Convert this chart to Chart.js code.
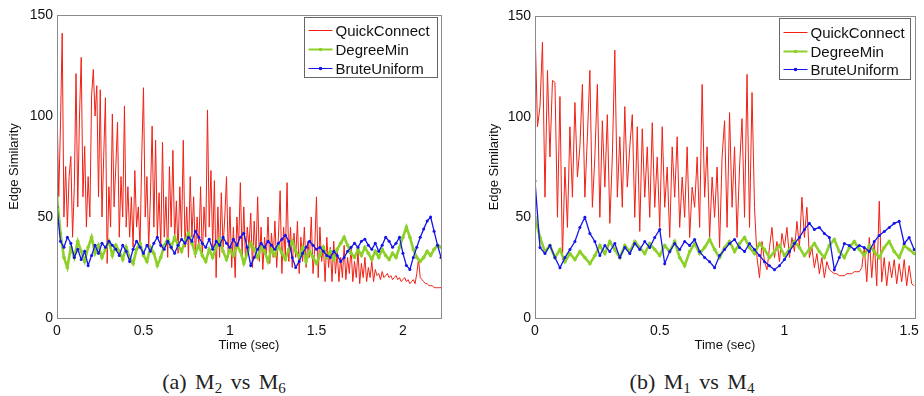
<!DOCTYPE html>
<html>
<head>
<meta charset="utf-8">
<script src="https://cdn.jsdelivr.net/npm/chart.js@4.4.1/dist/chart.umd.min.js"></script>
<style>
  body { margin: 0; background: #fff; width: 924px; height: 396px; position: relative; overflow: hidden; }
  canvas { position: absolute; top: 0; }
  #chartA { left: 0; }
  #chartB { left: 470px; }
  .caption { position: absolute; top: 369px; width: 240px; text-align: center; line-height: 26px;
             font-family: "Liberation Serif", "DejaVu Serif", serif; font-size: 22px;
             word-spacing: 3px; color: #222; }
  .caption sub { font-size: 15px; vertical-align: -4px; line-height: 0; }
</style>
</head>
<body>
<canvas id="chartA" width="462" height="360"></canvas>
<canvas id="chartB" width="454" height="360"></canvas>
<div class="caption" style="left:104px">(a) M<sub>2</sub> vs M<sub>6</sub></div>
<div class="caption" style="left:572px">(b) M<sub>1</sub> vs M<sub>4</sub></div>
<script>
// series names (legend)
const seriesNames = ['QuickConnect', 'DegreeMin', 'BruteUniform'];

// tick labels
const yTicks = [0, 50, 100, 150];
const xTicksA = [0, 0.5, 1, 1.5, 2];
const xTicksB = [0, 0.5, 1, 1.5];

// sampling interval (sec) of each series
const stepQuick = 0.01;
const stepOther = 0.02;

// (a) M2 vs M6
const quickA = [
  105,60,95,141,50,75,45,70,80,40,
  65,121,55,100,129,60,85,45,70,50,
  110,123,100,115,60,113,50,80,109,27,
  65,45,101,55,75,97,40,70,50,105,
  45,65,40,60,35,73,45,55,35,80,
  114,50,70,35,60,95,45,88,40,62,
  35,87,40,60,30,75,45,83,38,58,
  32,65,40,88,35,55,30,70,40,60,
  30,50,35,65,30,55,40,103,45,73,
  35,68,20,55,30,62,35,50,70,30,
  55,25,45,20,50,35,67,30,55,28,
  45,35,52,25,48,30,60,28,45,24,
  40,30,50,27,42,30,48,25,40,63,
  22,45,30,67,28,45,25,42,30,48,
  22,40,28,45,25,38,30,50,22,35,
  60,20,45,28,36,18,40,25,35,18,
  38,22,33,18,30,20,36,19,30,22,
  35,18,28,20,33,17,27,20,30,18,
  25,20,28,18,24,21,22,19,23,20,
  21,22,20,21,19,20,21,19,20,18,
  19,20,18,19,17,18,19,17,22,29,
  20,19,18,17,17,16,16,16,15,15,
  15,15,15
];
const degreeA = [
  60,42,30,25,35,30,38,33,28,35,
  40,32,36,30,34,38,31,36,33,29,
  35,30,27,34,37,31,28,35,32,26,
  30,36,39,35,40,36,33,38,42,37,
  32,36,31,28,34,30,35,39,33,29,
  34,31,36,33,27,32,37,34,30,35,
  33,28,34,31,36,32,29,34,38,33,
  30,35,28,33,30,27,31,35,30,33,
  29,34,37,40,36,32,30,34,31,35,
  32,29,33,30,34,31,29,32,30,35,
  40,45,40,34,30,28,30,33,31,34,
  36,35
];
const bruteA = [
  55,38,35,40,37,30,34,29,33,26,
  31,36,32,37,35,38,36,34,31,36,
  33,28,34,38,35,32,36,33,37,40,
  36,34,38,35,32,36,39,37,40,38,
  43,40,37,35,39,34,38,36,40,37,
  35,39,36,40,42,35,26,30,34,37,
  35,38,36,34,37,39,41,38,30,25,
  28,32,35,38,36,34,35,33,31,30,
  33,31,28,30,33,35,37,35,38,39,
  36,34,37,33,36,40,38,35,37,40,
  32,26,24,30,35,40,44,48,50,43,
  36,30
];

// (b) M1 vs M4
const quickB = [
  145,95,105,137,60,123,80,118,117,50,
  110,29,75,45,95,60,107,70,85,116,
  60,90,123,55,80,116,50,98,65,101,
  47,80,133,60,90,55,105,65,85,101,
  50,95,43,94,60,85,50,97,55,80,
  45,95,55,75,40,85,60,90,45,70,
  50,85,40,65,55,80,45,116,60,85,
  40,70,50,75,35,80,98,45,102,55,
  85,40,75,99,50,121,45,112,55,30,
  20,38,28,24,35,45,30,38,28,42,
  35,45,30,40,33,48,35,60,40,55,
  30,35,25,32,22,30,20,28,24,23,
  22,22,21,21,21,22,22,22,23,23,
  23,25,35,18,40,20,38,16,58,18,
  30,16,28,20,29,17,27,18,29,16,
  26,17,16
];
const degreeB = [
  50,40,33,36,30,34,28,32,29,33,
  30,27,31,36,32,38,34,30,36,33,
  38,35,32,37,34,31,36,33,38,30,
  26,33,37,32,35,39,34,30,35,38,
  33,37,40,35,32,37,34,30,33,36,
  31,34,38,35,31,34,37,33,30,36,
  39,33,30,35,38,34,31,36,33,30,
  35,38,33,30,36,34,32
];
const bruteB = [
  68,35,32,36,30,25,30,34,38,45,
  50,42,38,31,36,33,37,30,35,32,
  37,34,38,35,40,44,27,33,37,34,
  38,36,39,33,30,28,25,31,34,37,
  39,35,33,37,34,31,28,26,24,26,
  29,33,37,40,44,47,44,45,42,40,
  24,30,37,36,34,36,35,33,38,41,
  43,45,47,48,37,40,34
];

const FONT = '"Liberation Sans", Arial, Helvetica, sans-serif';
Chart.defaults.font.family = FONT;
Chart.defaults.color = '#111';

const colQuick = 'rgb(240, 32, 20)';
const colDegree = 'rgb(140, 208, 40)';
const colBrute = 'rgb(20, 20, 235)';

function toPoints(values, step) {
  return values.map((v, i) => ({ x: +(i * step).toFixed(3), y: v }));
}

// MATLAB style box around the plot area
const boxPlugin = {
  id: 'boxPlugin',
  afterDatasetsDraw(chart) {
    const { ctx, chartArea: a } = chart;
    ctx.save();
    ctx.strokeStyle = '#8a8a8a';
    ctx.lineWidth = 1;
    ctx.strokeRect(Math.round(a.left) + 0.5, Math.round(a.top) + 0.5,
                   Math.round(a.right - a.left), Math.round(a.bottom - a.top));
    ctx.restore();
  }
};

// legend drawn inside the plot, top right
const legendPlugin = {
  id: 'legendPlugin',
  afterDatasetsDraw(chart, args, o) {
    const { ctx, chartArea: a } = chart;
    const x = Math.round(a.right - o.right - o.width) + 0.5;
    const y = Math.round(a.top + o.top) + 0.5;
    ctx.save();
    ctx.fillStyle = '#fff';
    ctx.fillRect(x, y, o.width, o.height);
    ctx.strokeStyle = '#666';
    ctx.lineWidth = 1;
    ctx.strokeRect(x, y, o.width, o.height);
    ctx.font = '15px ' + FONT;
    ctx.textBaseline = 'middle';
    chart.data.datasets.forEach((ds, i) => {
      const ry = y + o.rows[i];
      ctx.strokeStyle = ds.borderColor;
      ctx.lineWidth = ds.borderWidth > 2 ? 2 : 1;
      ctx.beginPath();
      ctx.moveTo(x + 4, ry);
      ctx.lineTo(x + 28, ry);
      ctx.stroke();
      if (ds.pointRadius > 0) {
        ctx.fillStyle = ds.borderColor;
        ctx.beginPath();
        ctx.arc(x + 16, ry, 1.8, 0, Math.PI * 2);
        ctx.fill();
      }
      ctx.fillStyle = '#111';
      ctx.fillText(ds.label, x + 31, ry + 1);
    });
    ctx.restore();
  }
};

function makeChart(canvas, cfg) {
  return new Chart(canvas, {
    type: 'line',
    data: {
      datasets: [
        { label: seriesNames[0], data: toPoints(cfg.quick, stepQuick),
          borderColor: colQuick, borderWidth: 1, pointRadius: 0, order: 3 },
        { label: seriesNames[1], data: toPoints(cfg.degree, stepOther),
          borderColor: colDegree, backgroundColor: colDegree, borderWidth: 2.6,
          pointRadius: 1.8, pointBorderWidth: 0, order: 2 },
        { label: seriesNames[2], data: toPoints(cfg.brute, stepOther),
          borderColor: colBrute, backgroundColor: colBrute, borderWidth: 1.3,
          pointRadius: 1.5, pointBorderWidth: 0, order: 1 }
      ]
    },
    options: {
      responsive: false,
      animation: false,
      devicePixelRatio: 1,
      events: [],
      layout: { padding: cfg.padding },
      scales: {
        x: {
          type: 'linear', min: 0, max: cfg.xMax,
          afterBuildTicks: s => { s.ticks = cfg.xTicks.map(v => ({ value: v })); },
          afterFit: s => { s.height = 42; },
          grid: { display: false, drawTicks: false },
          border: { display: false },
          ticks: { padding: 5, font: { size: 14 }, color: '#111', maxRotation: 0,
                   callback: v => String(v) },
          title: { display: true, text: 'Time (sec)', color: '#111',
                   font: { size: 13 }, padding: { top: 0, bottom: 7 } }
        },
        y: {
          min: 0, max: 150,
          afterBuildTicks: s => { s.ticks = yTicks.map(v => ({ value: v })); },
          afterFit: s => { s.width = cfg.yWidth; },
          grid: { display: false, drawTicks: false },
          border: { display: false },
          ticks: { padding: 4, font: { size: 14 }, color: '#111' },
          title: { display: true, text: 'Edge Similarity', color: '#111',
                   font: { size: 13 }, padding: { top: cfg.yTitlePad, bottom: 0 } }
        }
      },
      plugins: {
        legend: { display: false },
        tooltip: { enabled: false },
        legendPlugin: cfg.legend
      }
    },
    plugins: [boxPlugin, legendPlugin]
  });
}

makeChart(document.getElementById('chartA'), {
  quick: quickA, degree: degreeA, brute: bruteA,
  xMax: 2.22, xTicks: xTicksA, yWidth: 57, yTitlePad: 7,
  padding: { top: 15, right: 21, left: 0, bottom: 0 },
  legend: { width: 133, height: 60, right: 4, top: 2, rows: [13, 32, 51] }
});

makeChart(document.getElementById('chartB'), {
  quick: quickB, degree: degreeB, brute: bruteB,
  xMax: 1.523, xTicks: xTicksB, yWidth: 65, yTitlePad: 17,
  padding: { top: 16, right: 6, left: 0, bottom: 0 },
  legend: { width: 131, height: 61, right: 5, top: 2, rows: [14, 33, 51] }
});
</script>
</body>
</html>
